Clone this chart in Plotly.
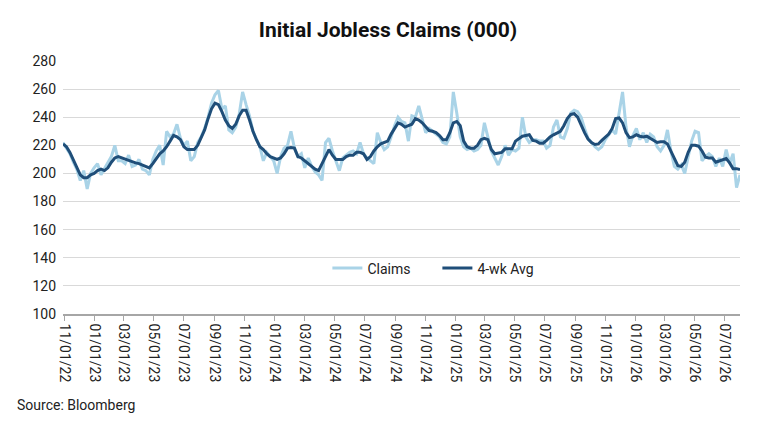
import pandas as pd
import plotly.graph_objects as go

# weekly readings, week ending Saturdays
start_week = "2022-10-29"

claims = [
    222, 218, 214, 208, 203, 195, 202, 189, 200, 204, 207, 199, 203, 208, 212, 220, 209,
    209, 207, 213, 205, 206, 210, 203, 202, 199, 210, 216, 220, 206, 230, 226, 228,
    235, 225, 220, 223, 209, 212, 222, 226, 232, 240, 250, 256, 259, 246, 248, 231, 229,
    233, 242, 258, 249, 241, 230, 225, 219, 209, 215, 212, 209, 200, 212, 218, 220, 230,
    218, 212, 214, 204, 211, 205, 201, 199, 195, 222, 225, 216, 209, 202, 211, 213, 215,
    216, 214, 222, 214, 211, 209, 207, 229, 222, 217, 219, 226, 234, 240, 237, 236,
    223, 241, 240, 248, 238, 229, 232, 230, 228, 226, 222, 221, 226, 258, 243, 226, 219,
    217, 218, 216, 217, 220, 236, 226, 216, 211, 206, 212, 220, 213, 217, 216, 218,
    240, 226, 222, 224, 224, 223, 223, 218, 220, 233, 238, 226, 225, 232, 243, 245, 244,
    240, 232, 225, 222, 219, 217, 219, 224, 228, 231, 228, 242, 258, 233, 219,
    227, 232, 224, 229, 222, 228, 226, 219, 216, 220, 231, 216, 205, 203, 206, 200, 212,
    223, 230, 229, 209, 212, 214, 212, 205, 211, 205, 217, 207, 214, 190, 199,
]

avg_4wk = [
    221, 219, 215, 210, 204, 199, 197, 197, 199, 200, 202, 203, 202, 204, 208, 211, 212,
    211, 210, 209, 208, 207.5, 207, 206, 205, 204, 207, 211, 214, 216, 219, 223, 227,
    226, 224, 219, 217, 217, 217, 220, 225, 231, 239, 246, 250, 249, 244, 238, 234, 232,
    235, 241, 245, 245, 238, 230, 224, 219, 217, 214, 212, 211, 210, 211, 214, 218, 218.5,
    218, 212, 211, 209, 207, 204.5, 203, 202, 207, 211, 217, 213, 210, 210, 210, 212, 213,
    213, 215, 215, 214, 210, 212, 216, 219, 221, 222, 223, 228, 232, 236, 235, 233,
    234, 235, 239, 238, 236, 233, 230.5, 230, 229, 227, 224, 224, 229, 236, 237, 234, 223,
    219, 218, 218, 220, 224, 225, 224, 217, 214, 214.5, 215, 217.5, 217.5, 217.5, 223, 225,
    226.5, 227, 227.5, 223.5, 223, 221.5, 221.5, 223.5, 226, 227.5, 229, 230, 234, 239, 242,
    242.5, 240, 234, 229, 224.5, 222, 220.6, 221, 223.5, 226, 228, 232, 239, 239.5, 236,
    229, 225.5,
    226, 227.5, 226.5, 226, 226.5, 225, 223.5, 222, 222.5, 222.5, 221, 216, 210, 205.5, 205,
    208, 215, 220, 220, 219.4, 216, 211.5, 211, 211, 208, 209, 210, 210.6, 207.5, 203.4,
    203.4, 202.7,
]

weeks = pd.date_range(start_week, periods=len(claims), freq="7D")

fig = go.Figure()
fig.add_trace(go.Scatter(
    x=weeks, y=claims, mode="lines", name="Claims",
    line=dict(color="#a9d3e7", width=3),
))
fig.add_trace(go.Scatter(
    x=weeks, y=avg_4wk, mode="lines", name="4-wk Avg",
    line=dict(color="#1f4e79", width=3),
))

# page body adds an 8px offset, so the figure is sized a bit smaller than the window
fig.update_layout(
    width=760, height=417,
    paper_bgcolor="white", plot_bgcolor="white",
    margin=dict(l=55, r=28, t=53, b=111),
    font=dict(family="Roboto", size=14, color="#222"),
    title=dict(text="<b>Initial Jobless Claims (000)</b>", x=0.5, xref="container",
               y=0.947, yanchor="middle", font=dict(size=21, color="#111")),
    legend=dict(orientation="h", x=0.553, y=0.18, xanchor="center", yanchor="middle",
                bgcolor="rgba(0,0,0,0)", font=dict(size=14),
                entrywidth=65, entrywidthmode="pixels"),
    showlegend=True,
)

fig.update_xaxes(
    type="date", range=[weeks[0], weeks[-1]],
    tick0="2022-11-01", dtick="M2", tickformat="%m/%d/%y", tickangle=90,
    showgrid=False, showline=True, linecolor="#a6a6a6", linewidth=1.5,
    ticks="outside", ticklen=5, tickcolor="#a6a6a6",
    tickfont=dict(size=14, color="#222"),
)
fig.update_yaxes(
    range=[100, 280], dtick=20, showgrid=True, gridcolor="#d9d9d9", gridwidth=1,
    zeroline=False, showline=False, tickfont=dict(size=14, color="#222"),
    ticklabelstandoff=6,
)

fig.add_annotation(text="Source: Bloomberg", xref="paper", yref="paper",
                   x=-0.071, y=-0.36, xanchor="left", yanchor="middle",
                   showarrow=False, font=dict(size=14, color="#222"))

fig.write_html("out.html")
